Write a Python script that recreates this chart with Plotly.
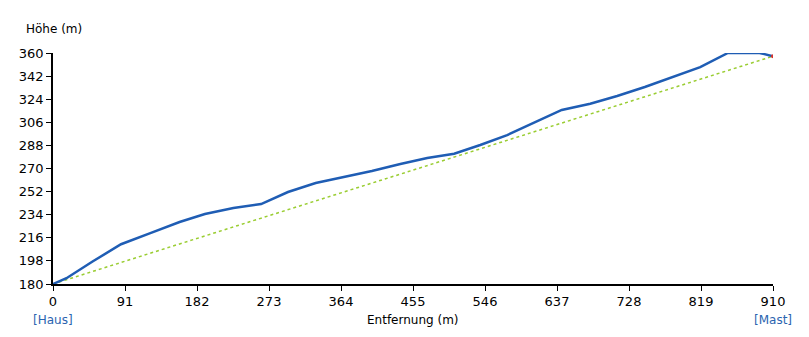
import plotly.graph_objects as go

# Profile data (distance in m, elevation in m)
dist = [0, 17, 50, 86, 123, 160, 192, 228, 263, 297, 332, 369, 403, 439, 473, 507,
        540, 574, 609, 643, 679, 713, 748, 782, 818, 853, 893, 910]
elev = [180, 184.5, 197.5, 211, 219.7, 228.3, 234.5, 239.2, 242.3, 251.7, 258.7, 263.4,
        268, 273.5, 278.2, 281.5, 288.3, 296, 306, 315.6, 320.5, 326.5, 333.5, 341,
        349, 360, 360, 357.5]

# Line of sight
los_x = [0, 910]
los_y = [180, 357.5]

xticks = [0, 91, 182, 273, 364, 455, 546, 637, 728, 819, 910]
yticks = [180, 198, 216, 234, 252, 270, 288, 306, 324, 342, 360]

font = "DejaVu Sans"

fig = go.Figure()
fig.add_trace(go.Scatter(x=los_x, y=los_y, mode="lines",
                         line=dict(color="#9acd32", width=1.5, dash="dot"),
                         hoverinfo="skip", showlegend=False))
fig.add_trace(go.Scatter(x=dist, y=elev, mode="lines",
                         line=dict(color="#1f5db4", width=2.5),
                         showlegend=False))
fig.add_trace(go.Scatter(x=[los_x[-1]], y=[los_y[-1]], mode="markers",
                         marker=dict(color="#d9342b", size=4),
                         showlegend=False))

fig.update_layout(
    width=809, height=337,
    margin=dict(l=53, r=36, t=53, b=53),
    plot_bgcolor="white", paper_bgcolor="white",
    font=dict(family=font, size=13, color="black"),
    xaxis=dict(range=[0, 910], tickvals=xticks, ticktext=[str(v) for v in xticks],
               showgrid=False, zeroline=False, showline=True, linecolor="black",
               linewidth=1.5, ticks="outside", ticklen=5, tickcolor="black",
               tickfont=dict(family=font, size=13)),
    yaxis=dict(range=[180, 360], tickvals=yticks, ticktext=[str(v) for v in yticks],
               showgrid=False, zeroline=False, showline=True, linecolor="black",
               linewidth=1.5, ticks="outside", ticklen=5, tickcolor="black",
               tickfont=dict(family=font, size=13)),
    annotations=[
        dict(text="Höhe (m)", x=24, y=29, xref="paper", yref="paper", showarrow=False,
             xanchor="left", yanchor="middle", font=dict(family=font, size=12)),
        dict(text="Entfernung (m)", x=0.5, xref="paper", y=-36, yref="paper", showarrow=False,
             yanchor="middle", font=dict(family=font, size=12)),
        dict(text="[Haus]", x=0, xref="x", y=-36, yref="paper", showarrow=False,
             yanchor="middle", font=dict(family=font, size=12, color="#2a64b0")),
        dict(text="[Mast]", x=910, xref="x", y=-36, yref="paper", showarrow=False,
             yanchor="middle", font=dict(family=font, size=12, color="#2a64b0")),
    ],
)

# convert pixel positions of annotations into paper coords
plot_h = 337 - 53 - 53
plot_w = 809 - 53 - 36
anns = list(fig.layout.annotations)
anns[0].update(x=(24 - 53) / plot_w, y=(284 - 29) / plot_h)
for a in anns[1:]:
    a.update(y=(284 - 320) / plot_h)
fig.update_layout(annotations=anns)

fig.write_html("out.html")
